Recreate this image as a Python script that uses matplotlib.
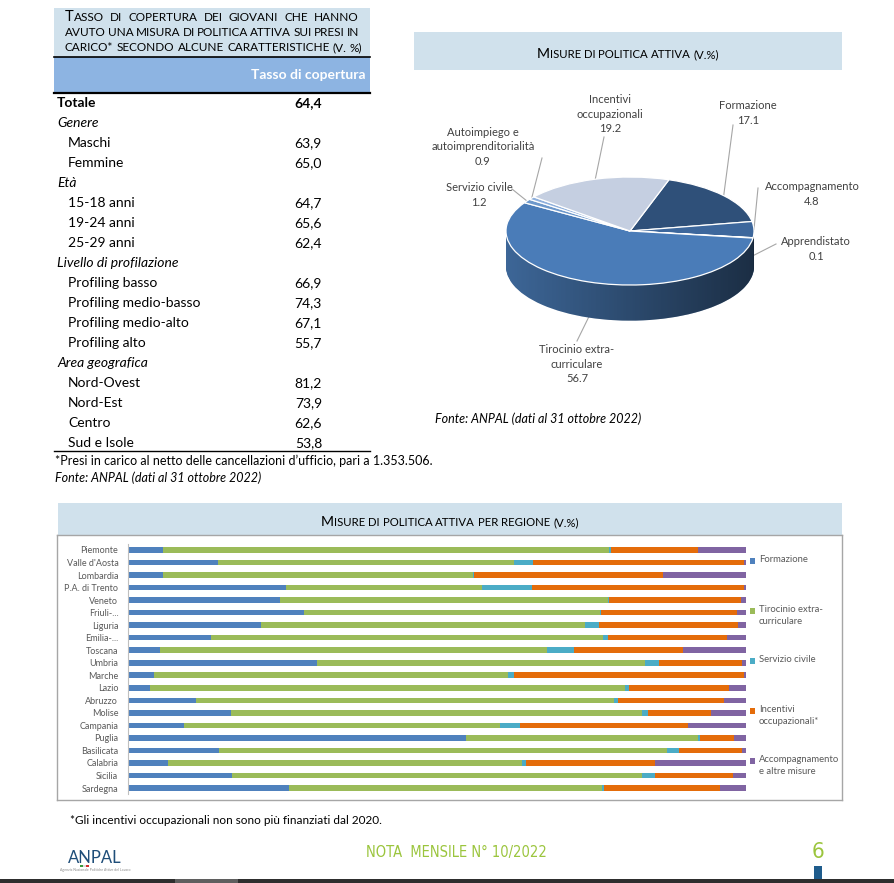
import numpy as np
import matplotlib
matplotlib.use('Agg')
import matplotlib.pyplot as plt
from matplotlib.patches import Rectangle, PathPatch
from matplotlib.path import Path
from matplotlib.colors import to_rgb

plt.rcParams['font.family'] = ['Lato', 'DejaVu Sans']

W, H = 895, 883

# --- table data ---
table_labels = ['Totale', 'Genere', 'Maschi', 'Femmine', 'Età', '15-18 anni', '19-24 anni',
                '25-29 anni', 'Livello di profilazione', 'Profiling basso', 'Profiling medio-basso',
                'Profiling medio-alto', 'Profiling alto', 'Area geografica', 'Nord-Ovest',
                'Nord-Est', 'Centro', 'Sud e Isole']
table_values = [64.4, None, 63.9, 65.0, None, 64.7, 65.6, 62.4, None, 66.9, 74.3, 67.1, 55.7,
                None, 81.2, 73.9, 62.6, 53.8]

# --- pie data (clockwise order from the top) ---
pie_names = ['Formazione', 'Accompagnamento', 'Apprendistato', 'Tirocinio extra-\ncurriculare',
             'Servizio civile', 'Autoimpiego e\nautoimprenditorialità', 'Incentivi\noccupazionali']
pie_values = [17.1, 4.8, 0.1, 56.7, 1.2, 0.9, 19.2]
pie_colors = ['#2f5079', '#3d679c', '#a9bedc', '#4a7cb8', '#6d98cb', '#8fb0dc', '#c5cfe1']

# --- regional data (%) ---
regions = ['Piemonte', "Valle d'Aosta", 'Lombardia', 'P.A. di Trento', 'Veneto', 'Friuli-...',
           'Liguria', 'Emilia-...', 'Toscana', 'Umbria', 'Marche', 'Lazio', 'Abruzzo', 'Molise',
           'Campania', 'Puglia', 'Basilicata', 'Calabria', 'Sicilia', 'Sardegna']
formazione = [5.7, 14.5, 5.7, 25.6, 24.6, 28.5, 21.5, 13.4, 5.2, 30.6,
              4.2, 3.6, 11.0, 16.7, 9.1, 54.7, 14.7, 6.4, 16.8, 26.1]
tirocinio = [72.1, 48.0, 50.1, 31.7, 53.0, 47.8, 52.4, 63.5, 62.6, 53.1,
             57.3, 76.9, 67.7, 66.5, 51.1, 37.6, 72.5, 57.3, 66.4, 50.6]
servizio = [0.4, 3.0, 0.2, 8.1, 0.3, 0.3, 2.3, 0.8, 4.3, 2.2,
            1.0, 0.6, 0.6, 1.0, 3.2, 0.3, 2.0, 0.7, 2.1, 0.3]
incentivi = [14.0, 34.1, 30.5, 34.3, 21.3, 21.9, 22.5, 19.2, 17.7, 13.5,
             37.2, 16.1, 17.2, 10.1, 27.2, 5.5, 10.2, 20.9, 12.6, 18.8]
accompagnamento = [7.8, 0.4, 13.5, 0.3, 0.8, 1.5, 1.3, 3.1, 10.2, 0.6,
                   0.3, 2.8, 3.5, 5.7, 9.4, 1.9, 0.6, 14.7, 2.1, 4.2]
series_names = ['Formazione', 'Tirocinio extra-\ncurriculare', 'Servizio civile',
                'Incentivi\noccupazionali*', 'Accompagnamento\ne altre misure']
series_colors = ['#4f81bd', '#9bbb59', '#4bacc6', '#e46c0a', '#8064a2']

LIGHT = '#d0e1ec'
GREY_TXT = '#404040'

fig = plt.figure(figsize=(W / 100, H / 100), dpi=100)
bg = fig.add_axes([0, 0, 1, 1])
bg.set_xlim(0, W)
bg.set_ylim(H, 0)
bg.axis('off')
renderer = fig.canvas.get_renderer()


def px_axes(x0, y0, x1, y1):
    return fig.add_axes([x0 / W, 1 - y1 / H, (x1 - x0) / W, (y1 - y0) / H])


def width_of(s, **kw):
    t = bg.text(0, 0, s, **kw)
    w = t.get_window_extent(renderer).width
    t.remove()
    return w


def caps_parts(word, big, small, first_big):
    # list of (string, size) for a small-caps word
    if first_big:
        return [(word[0].upper(), big), (word[1:].upper(), small)]
    return [(word.upper(), small)]


def draw_parts(x, y, parts, family):
    for s, fs in parts:
        bg.text(x, y, s, fontsize=fs, va='baseline', ha='left', color='black', family=family)
        x += width_of(s, fontsize=fs, family=family)
    return x


def parts_width(parts, family):
    return sum(width_of(s, fontsize=fs, family=family) for s, fs in parts)


def justified_caps(x0, x1, y, text, big, small, family, first_big=False, justify=True):
    words = text.split(' ')
    pw = [caps_parts(w, big, small, first_big and i == 0) for i, w in enumerate(words)]
    widths = [parts_width(p, family) for p in pw]
    if justify and len(words) > 1:
        gap = (x1 - x0 - sum(widths)) / (len(words) - 1)
    else:
        gap = width_of(' ', fontsize=small, family=family) * 1.1
    x = x0
    for p, w in zip(pw, widths):
        draw_parts(x, y, p, family)
        x += w + gap


def centered_caps(cx, y, text, big, small, family):
    words = text.split(' ')
    parts = []
    for i, w in enumerate(words):
        parts += caps_parts(w, big, small, i == 0)
        if i < len(words) - 1:
            parts.append((' ', small))
    x0 = cx - parts_width(parts, family) / 2
    draw_parts(x0, y, parts, family)


def darken(c, f):
    r, g, b = to_rgb(c)
    return (r * f, g * f, b * f)


# ================= TABLE =================
bg.add_patch(Rectangle((54, 8), 316, 49, color=LIGHT, lw=0))
bg.add_patch(Rectangle((54, 57), 316, 35, color='#8db4e2', lw=0))
bg.plot([54, 370], [57, 57], color='black', lw=1.2)
bg.plot([54, 370], [92.5, 92.5], color='black', lw=1.6)
bg.plot([54, 370], [451, 451], color='black', lw=1.0)

caps_font = ['Lato', 'DejaVu Sans']
justified_caps(65, 359, 21, 'Tasso di copertura dei giovani che hanno', 10.6, 8.5, caps_font,
               first_big=True)
justified_caps(65, 359, 36, 'avuto una misura di politica attiva sui presi in', 10.6, 8.5,
               caps_font)
justified_caps(65, 359, 51, 'carico* secondo alcune caratteristiche (v. %)', 10.6, 8.5, caps_font,
               justify=False)

bg.text(366, 75, 'Tasso di copertura', fontsize=10, fontweight='bold', color='white',
        ha='right', va='center')

for i, (lab, val) in enumerate(zip(table_labels, table_values)):
    y = 103 + 20 * i
    if i == 0:
        bg.text(57, y, lab, fontsize=10, fontweight='bold', va='center')
        bg.text(322, y, f'{val:.1f}'.replace('.', ','), fontsize=10, fontweight='bold',
                va='center', ha='right')
    elif val is None:
        bg.text(57, y, lab, fontsize=10, style='italic', va='center')
    else:
        bg.text(68, y, lab, fontsize=10, va='center')
        bg.text(322, y, f'{val:.1f}'.replace('.', ','), fontsize=10, va='center', ha='right')

bg.text(55, 461, '*Presi in carico al netto delle cancellazioni d\u2019ufficio, pari a 1.353.506.',
        fontsize=9, va='center')
bg.text(55, 478, 'Fonte: ANPAL (dati al 31 ottobre 2022)', fontsize=9, style='italic', va='center')

# ================= PIE =================
bg.add_patch(Rectangle((414, 32), 428, 38, color=LIGHT, lw=0))
centered_caps(628, 58, 'Misure di politica attiva (v.%)', 10.2, 8.2, ['Lato', 'DejaVu Sans'])

pax = px_axes(506, 170, 754, 330)
depth = 0.66
n_layers = 40
start = 71.7
side_colors = [darken(c, 0.82) for c in pie_colors]
for k in range(n_layers, 0, -1):
    pax.pie(pie_values, colors=side_colors, startangle=start, counterclock=False,
            center=(0, -depth * k / n_layers), wedgeprops=dict(linewidth=0))
wedges, _ = pax.pie(pie_values, colors=pie_colors, startangle=start, counterclock=False,
                    wedgeprops=dict(edgecolor='white', linewidth=0.9))
for wdg in wedges:
    wdg.set_zorder(3)
pax.set_aspect('auto')

# shading of the pie side (darker towards the right)
t = np.linspace(np.pi, 2 * np.pi, 100)
verts = np.concatenate([np.column_stack([np.cos(t), np.sin(t)]),
                        np.column_stack([np.cos(t[::-1]), np.sin(t[::-1]) - depth])])
side_path = PathPatch(Path(verts), transform=pax.transData, facecolor='none', edgecolor='none')
pax.add_patch(side_path)
grad = np.zeros((2, 200, 4))
grad[..., 3] = np.linspace(0.0, 0.55, 200)[None, :]
im = pax.imshow(grad, extent=(-1, 1, -1 - depth, 0), aspect='auto', zorder=2,
                interpolation='bilinear')
im.set_clip_path(side_path)
pax.set_xlim(-1, 1)
pax.set_ylim(-1.833, 1.13)

label_pos = [(748, 113), (812, 194), (816, 249), (577, 364), (479, 195), (483, 147), (610, 114)]
line_end = [(733, 125), (758, 188), (776, 244), (577, 341), (512, 189), (542, 158), (604, 137)]
anchor_depth = [0, 0, 0.5, 1.0, 0, 0, 0]
inv = bg.transData.inverted()
for wdg, name, val, pos, le, ad in zip(wedges, pie_names, pie_values, label_pos, line_end,
                                       anchor_depth):
    a = np.deg2rad((wdg.theta1 + wdg.theta2) / 2)
    ax_pt = inv.transform(pax.transData.transform((np.cos(a), np.sin(a) - ad * depth)))
    bg.plot([ax_pt[0], le[0]], [ax_pt[1], le[1]], color='#a6a6a6', lw=0.8)
    bg.text(pos[0], pos[1], f'{name}\n{val:.1f}', fontsize=8, color=GREY_TXT,
            ha='center', va='center', linespacing=1.35)

bg.text(435, 419, 'Fonte: ANPAL (dati al 31 ottobre 2022)', fontsize=9, style='italic',
        va='center')

# ================= REGIONAL BARS =================
bg.add_patch(Rectangle((58, 503), 784, 32, color=LIGHT, lw=0))
centered_caps(450, 526, 'Misure di politica attiva per regione (v.%)', 10.2, 8.2,
              ['Lato', 'DejaVu Sans'])
frame = '#a6a6a6'
bg.plot([57.5, 842], [535, 535], color=frame, lw=1)
bg.plot([57.5, 57.5], [535, 800], color=frame, lw=1)
bg.plot([842, 842], [535, 800], color=frame, lw=1)
bg.plot([57.5, 842], [800, 800], color=frame, lw=1)

bax = px_axes(128, 543.7, 746, 794.3)
ypos = np.arange(len(regions))
left = np.zeros(len(regions))
for vals, col in zip([formazione, tirocinio, servizio, incentivi, accompagnamento],
                     series_colors):
    bax.barh(ypos, vals, left=left, height=0.45, color=col, lw=0)
    left += np.array(vals)
bax.set_xlim(0, 100)
bax.set_ylim(len(regions) - 0.5, -0.5)
bax.set_yticks(ypos)
bax.set_yticklabels(regions, fontsize=6.5, color='#595959')
bax.tick_params(axis='y', length=0, pad=7)
bax.set_xticks([])
for s in ['top', 'right', 'bottom']:
    bax.spines[s].set_visible(False)
bax.spines['left'].set_color('#bfbfbf')
bax.spines['left'].set_linewidth(0.8)

leg_y = [561, 611, 661, 711, 761]
for name, col, y in zip(series_names, series_colors, leg_y):
    bg.add_patch(Rectangle((750, y - 3), 5.5, 5.5, color=col, lw=0))
    bg.text(759, y - 5.5, name, fontsize=6.8, color='#595959', va='top', ha='left',
            linespacing=1.35)

bg.text(70, 821, '*Gli incentivi occupazionali non sono pi\u00f9 finanziati dal 2020.',
        fontsize=8.5, va='center')

# ================= FOOTER =================
green = '#9bc53d'
bg.text(456, 853, 'NOTA  MENSILE N\u00b0 10/2022', fontsize=10.5, color=green, ha='center',
        va='center', family='DejaVu Sans', fontstretch='condensed')
bg.text(818, 852, '6', fontsize=16, color=green, ha='center', va='center',
        family='DejaVu Sans', fontstretch='condensed')
bg.add_patch(Rectangle((814, 866), 8, 17, color='#1f5c8c', lw=0))
bg.add_patch(Rectangle((0, 879), W, 4, color='#2e2e2e', lw=0))
bg.add_patch(Rectangle((175, 879), 63, 4, color='#5f5f5f', lw=0))

bg.text(95, 858, 'ANPAL', fontsize=12, color='#1f4e79', ha='center', va='center')
bg.add_patch(Rectangle((80, 865), 3, 2, color='#3a9a3a', lw=0))
bg.add_patch(Rectangle((83, 865), 3, 2, color='#dddddd', lw=0))
bg.add_patch(Rectangle((86, 865), 3, 2, color='#d32f2f', lw=0))
bg.text(95, 870, 'Agenzia Nazionale Politiche Attive del Lavoro', fontsize=2.5,
        color='#8a8a8a', ha='center', va='center')

fig.savefig('out.png', dpi=100)
